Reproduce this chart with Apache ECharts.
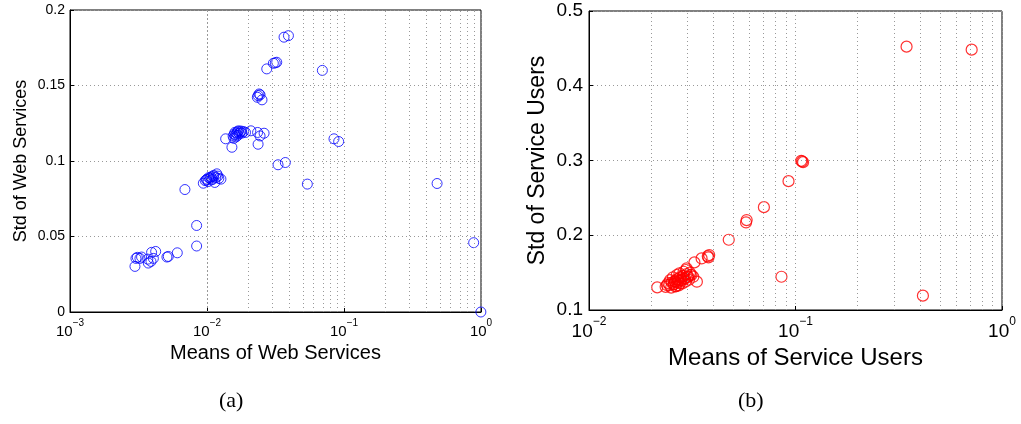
<!DOCTYPE html>
<html><head><meta charset="utf-8">
<script src="https://cdn.jsdelivr.net/npm/echarts@6/dist/echarts.min.js"></script>
<style>html,body{margin:0;padding:0;background:#fff}#c{width:1021px;height:424px}</style>
</head><body><div id="c"></div>
<script>
// (a) Web services
const meansWS = [0.0393,0.0365,0.0323,0.0305,0.0315,0.0273,0.0695,0.0240,0.0236,0.0244,0.0233,0.0252,
 0.01368,0.0152,0.0209,0.0234,0.0244,0.0261,0.0236,0.0191,
 0.0155,0.0158,0.0160,0.0162,0.0165,0.0167,0.0168,0.0170,0.0172,0.0175,0.0178,0.0163,0.0180,0.0157,0.0185,
 0.0845,0.0914,0.0373,0.0330,0.0540,0.478,0.884,0.998,
 0.0094,0.0099,0.0105,0.0111,0.0118,0.01264,0.0114,0.0108,0.0102,0.0097,0.0100,0.0103,0.0107,0.0112,0.0116,0.0120,0.0122,0.0110,
 0.0069,0.0084,0.0084,0.00607,0.00522,0.0051,0.00422,0.00394,0.00406,0.00373,0.0039,0.0037,0.00333,0.00324,0.0031,0.00298,0.00303];
const stdWS = [0.183,0.182,0.1654,0.1647,0.165,0.161,0.160,0.1444,0.1433,0.1438,0.1422,0.1405,
 0.1147,0.1091,0.120,0.1189,0.1166,0.1184,0.1111,0.1189,
 0.1165,0.1178,0.1190,0.1172,0.1185,0.1195,0.1170,0.1200,0.1182,0.1192,0.1198,0.1160,0.1185,0.1150,0.1195,
 0.1147,0.1129,0.0990,0.0975,0.0847,0.0851,0.0459,0.0,
 0.0853,0.0875,0.0886,0.0897,0.0915,0.0880,0.0858,0.0875,0.0864,0.0870,0.0880,0.0890,0.0895,0.0905,0.0890,0.0900,0.0885,0.0880,
 0.0811,0.0573,0.0437,0.0392,0.0368,0.0364,0.0401,0.0395,0.0355,0.0324,0.0335,0.0350,0.0364,0.0355,0.0362,0.0302,0.0355];
// (b) Service users
const meansSU = [0.345,0.713,0.414,0.1076,0.1088,0.1066,0.0925,0.0703,0.058,0.0576,0.0475,0.0855,
 0.0382,0.0379,0.0376,0.0351,0.0324,0.0214,0.0333,0.0297,
 0.0238,0.0252,0.0261,0.0266,0.0276,0.0287,0.0297,0.0308,0.0314,0.0276,0.0257,0.0271,0.0281,0.0292,0.0303,0.0320,0.0264,0.0287,0.0295,0.0247,0.0255,0.0266,0.0274,
 0.0235,0.0245,0.0250,0.0258,0.0262,0.0268,0.0272,0.0278,0.0283,0.0288,0.0293,0.0300,0.0305,0.0310,0.0260,0.0270,0.0285,0.0242];
const stdSU = [0.4523,0.4483,0.1192,0.2987,0.2978,0.2996,0.2724,0.2376,0.2203,0.2171,0.194,0.1445,
 0.1735,0.1704,0.172,0.169,0.1637,0.1303,0.1379,0.1557,
 0.1334,0.1365,0.1379,0.141,0.1437,0.1454,0.148,0.1499,0.1468,0.1356,0.1347,0.1392,0.14,0.1423,0.1445,0.1445,0.132,0.1512,0.1535,0.140,0.1437,0.1468,0.149,
 0.131,0.1335,0.130,0.1345,0.1315,0.137,0.133,0.1395,0.1355,0.142,0.138,0.1445,0.1405,0.147,0.1385,0.1415,0.1455,0.136];
const yTicksWS = [0, 0.05, 0.1, 0.15, 0.2];
const yTicksSU = [0.1, 0.2, 0.3, 0.4, 0.5];

function minorLines(lo, hi) {
  const out = [];
  for (let d = lo; d < hi; d++) for (let k = 2; k <= 9; k++) out.push({ xAxis: k * Math.pow(10, d) });
  return out;
}
const supFmt = v => '{b|10}{e|' + String(Math.round(Math.log10(v))).replace('-', '\u2212') + '}';
const FONT = 'Liberation Sans';
function xAx(idx, min, max, fs, efs, name, nfs, gap, lmargin) {
  return {
    type: 'log', logBase: 10, gridIndex: idx, min: min, max: max,
    name: name, nameLocation: 'middle', nameGap: gap,
    nameTextStyle: { fontFamily: FONT, fontSize: nfs, color: '#000' },
    axisLine: { lineStyle: { color: '#000', width: 1 } },
    axisTick: { inside: true, length: 4, lineStyle: { color: '#000' } },
    axisLabel: { margin: lmargin, formatter: supFmt, rich: {
      b: { fontFamily: FONT, fontSize: fs, color: '#000', verticalAlign: 'bottom', lineHeight: fs + 6 },
      e: { fontFamily: FONT, fontSize: efs, color: '#000', verticalAlign: 'top', lineHeight: fs + 6 } } },
    splitLine: { show: true, lineStyle: { color: '#999', type: [1, 3], width: 1 } }
  };
}
function yAx(idx, min, max, iv, fs, name, nfs, gap, margin) {
  return {
    type: 'value', gridIndex: idx, min: min, max: max, interval: iv,
    name: name, nameLocation: 'middle', nameGap: gap,
    nameTextStyle: { fontFamily: FONT, fontSize: nfs, color: '#000' },
    axisLine: { show: true, lineStyle: { color: '#000', width: 1 } },
    axisTick: { show: true, inside: true, length: 4, lineStyle: { color: '#000' } },
    axisLabel: { fontFamily: FONT, fontSize: fs, color: '#000', margin: margin },
    splitLine: { show: true, lineStyle: { color: '#999', type: [1, 3], width: 1 } }
  };
}
const chart = echarts.init(document.getElementById('c'), null, { renderer: 'canvas' });
chart.setOption({
  animation: false,
  backgroundColor: '#fff',
  grid: [
    { left: 70, top: 10, width: 411, height: 302, show: true, borderColor: '#000', borderWidth: 1, backgroundColor: 'transparent' },
    { left: 589, top: 11, width: 413, height: 299, show: true, borderColor: '#000', borderWidth: 1, backgroundColor: 'transparent' }
  ],
  xAxis: [
    xAx(0, 0.001, 1, 15, 10, 'Means of Web Services', 20, 27, 6),
    xAx(1, 0.01, 1, 19, 12, 'Means of Service Users', 24, 30, 6)
  ],
  yAxis: [
    yAx(0, 0, 0.2, 0.05, 14, 'Std of Web Services', 18, 40, 5),
    yAx(1, 0.1, 0.5, 0.1, 19, 'Std of Service Users', 23, 40, 6)
  ],
  series: [
    { type: 'scatter', xAxisIndex: 0, yAxisIndex: 0, symbol: 'circle', symbolSize: 10,
      itemStyle: { color: 'rgba(0,0,0,0)', borderColor: '#0000ff', borderWidth: 1 },
      data: meansWS.map((m, i) => [m, stdWS[i]]),
      markLine: { silent: true, symbol: 'none', label: { show: false }, animation: false,
        lineStyle: { color: '#999', type: [1, 3], width: 1 }, data: minorLines(-3, 0) } },
    { type: 'scatter', xAxisIndex: 1, yAxisIndex: 1, symbol: 'circle', symbolSize: 11,
      itemStyle: { color: 'rgba(0,0,0,0)', borderColor: '#ff0000', borderWidth: 1.2 },
      data: meansSU.map((m, i) => [m, stdSU[i]]),
      markLine: { silent: true, symbol: 'none', label: { show: false }, animation: false,
        lineStyle: { color: '#999', type: [1, 3], width: 1 }, data: minorLines(-2, 0) } }
  ],
  graphic: [
    { type: 'text', left: 219, top: 390, style: { text: '(a)', font: '22px "Liberation Serif"', fill: '#000' } },
    { type: 'text', left: 738, top: 390, style: { text: '(b)', font: '22px "Liberation Serif"', fill: '#000' } }
  ]
});
</script></body></html>
